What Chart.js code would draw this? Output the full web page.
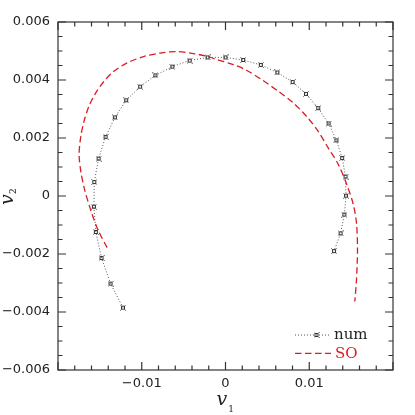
<!DOCTYPE html>
<html>
<head>
<meta charset="utf-8">
<script src="https://cdn.jsdelivr.net/npm/chart.js"></script>
<style>
  html, body { margin: 0; padding: 0; background: #fff; }
</style>
</head>
<body>
<canvas id="myChart" width="415" height="415"></canvas>
<script>
// numerical solution (v1, v2)
const numV1 = [-0.01224, -0.01373, -0.01480, -0.01548, -0.01571, -0.01567, -0.01515, -0.01432, -0.01321, -0.01186,
               -0.01019, -0.00837, -0.00635, -0.00429, -0.00214, 0.00000, 0.00211, 0.00421, 0.00619, 0.00802,
               0.00961, 0.01107, 0.01231, 0.01324, 0.01393, 0.01433, 0.01439, 0.01419, 0.01374, 0.01296];
const numV2 = [-0.00385, -0.00302, -0.00214, -0.00124, -0.00037, 0.00048, 0.00129, 0.00204, 0.00271, 0.00330,
               0.00377, 0.00416, 0.00446, 0.00467, 0.00478, 0.00478, 0.00469, 0.00452, 0.00426, 0.00393,
               0.00352, 0.00303, 0.00250, 0.00192, 0.00131, 0.00067, 0.00001, -0.00064, -0.00129, -0.00190];

// SO curve
const soV1 = [-0.01414, -0.01524, -0.01611, -0.01682, -0.01727, -0.01748, -0.01730, -0.01690, -0.01631, -0.01551,
              -0.01452, -0.01333, -0.01174, -0.00976, -0.00777, -0.00587, -0.00385, -0.00221, -0.00102, 0.00095,
              0.00235, 0.00433, 0.00631, 0.00810, 0.00969, 0.01107, 0.01226, 0.01345, 0.01445, 0.01524,
              0.01564, 0.01576, 0.01564, 0.01544];
const soV2 = [-0.00178, -0.00116, -0.00047, 0.00022, 0.00084, 0.00142, 0.00201, 0.00257, 0.00309, 0.00355,
              0.00395, 0.00430, 0.00459, 0.00481, 0.00493, 0.00498, 0.00491, 0.00482, 0.00470, 0.00453,
              0.00436, 0.00401, 0.00361, 0.00321, 0.00274, 0.00223, 0.00166, 0.00110, 0.00042, -0.00027,
              -0.00093, -0.00185, -0.00289, -0.00364];

const xTicks = [-0.01, 0, 0.01];
const xLabels = ['\u22120.01', '0', '0.01'];
const yTicks = [-0.006, -0.004, -0.002, 0, 0.002, 0.004, 0.006];
const yLabels = ['\u22120.006', '\u22120.004', '\u22120.002', '0', '0.002', '0.004', '0.006'];

const RED = 'rgb(218,28,36)';
const INK = '#222';

function makeMarker() {
  const c = document.createElement('canvas');
  c.width = 6; c.height = 6;
  const g = c.getContext('2d');
  g.strokeStyle = '#333';
  g.lineWidth = 1;
  g.strokeRect(1.5, 1.5, 3, 3);
  g.fillStyle = 'rgba(60,60,60,0.6)';
  g.fillRect(0, 0, 1, 1); g.fillRect(5, 0, 1, 1);
  g.fillRect(0, 5, 1, 1); g.fillRect(5, 5, 1, 1);
  return c;
}
const marker = makeMarker();

const frame = {
  id: 'frame',
  afterDatasetsDraw(chart) {
    const {ctx, chartArea: a, scales: {x, y}} = chart;
    ctx.save();
    ctx.strokeStyle = '#333';
    ctx.lineWidth = 1.2;
    ctx.setLineDash([]);
    ctx.strokeRect(a.left, a.top, a.right - a.left, a.bottom - a.top);
    ctx.beginPath();
    for (let i = 0; i <= 20; i++) {
      const px = x.getPixelForValue(x.min + i * 0.002);
      const len = (i % 5 === 0) ? 8 : 4.5;
      ctx.moveTo(px, a.bottom); ctx.lineTo(px, a.bottom - len);
      ctx.moveTo(px, a.top); ctx.lineTo(px, a.top + len);
    }
    for (let i = 0; i <= 24; i++) {
      const py = y.getPixelForValue(y.min + i * 0.0005);
      const len = (i % 4 === 0) ? 8 : 4.5;
      ctx.moveTo(a.left, py); ctx.lineTo(a.left + len, py);
      ctx.moveTo(a.right, py); ctx.lineTo(a.right - len, py);
    }
    ctx.stroke();

    // legend
    const lx0 = a.right - 98, lx1 = a.right - 62;
    const ly1 = a.bottom - 35, ly2 = a.bottom - 16.7;
    ctx.lineWidth = 1;
    ctx.strokeStyle = '#555';
    ctx.setLineDash([1, 2]);
    ctx.beginPath(); ctx.moveTo(lx0, ly1); ctx.lineTo(lx1, ly1); ctx.stroke();
    ctx.drawImage(marker, lx0 + 21.5 - 3, ly1 - 3);
    ctx.strokeStyle = RED;
    ctx.lineWidth = 1.3;
    ctx.setLineDash([6.5, 3.5]);
    ctx.beginPath(); ctx.moveTo(lx0, ly2); ctx.lineTo(lx1, ly2); ctx.stroke();
    ctx.setLineDash([]);
    ctx.font = '15px "DejaVu Serif"';
    ctx.textBaseline = 'alphabetic';
    ctx.textAlign = 'left';
    ctx.fillStyle = INK;
    ctx.fillText('num', lx1 + 3, ly1 + 4.3);
    ctx.fillStyle = RED;
    ctx.fillText('SO', lx1 + 4, ly2 + 5);

    // axis titles
    ctx.fillStyle = INK;
    ctx.font = 'italic 19px "DejaVu Serif"';
    ctx.fillText('v', 216.5, 405);
    ctx.font = '9px "DejaVu Serif"';
    ctx.fillText('1', 228.3, 411.7);
    ctx.translate(13, 205);
    ctx.rotate(-Math.PI / 2);
    ctx.font = 'italic 19px "DejaVu Serif"';
    ctx.fillText('v', 0, 0);
    ctx.font = '9px "DejaVu Serif"';
    ctx.fillText('2', 11, 3);
    ctx.restore();
  }
};

const data = {
  datasets: [{
    label: 'num',
    data: numV1.map((v, i) => ({x: v, y: numV2[i]})),
    showLine: true,
    borderColor: '#555',
    borderWidth: 1,
    borderDash: [1, 2],
    pointStyle: marker,
    pointRadius: 3,
    tension: 0
  }, {
    label: 'SO',
    data: soV1.map((v, i) => ({x: v, y: soV2[i]})),
    showLine: true,
    borderColor: RED,
    borderWidth: 1.3,
    borderDash: [6.5, 3.5],
    pointRadius: 0,
    tension: 0.3
  }]
};

const tickFont = {family: 'DejaVu Sans', size: 13};

const config = {
  type: 'scatter',
  data: data,
  options: {
    responsive: false,
    animation: false,
    devicePixelRatio: 1,
    layout: {padding: {top: 22, right: 22, left: 0, bottom: 0}},
    plugins: {legend: {display: false}, tooltip: {enabled: false}},
    scales: {
      x: {
        type: 'linear',
        min: -0.02,
        max: 0.02,
        afterBuildTicks: (s) => { s.ticks = xTicks.map(v => ({value: v})); },
        afterFit: (s) => { s.height = 45; },
        ticks: {
          callback: (v, i) => xLabels[i],
          autoSkip: false, maxRotation: 0, padding: 6,
          font: tickFont, color: INK
        },
        grid: {display: false, drawTicks: false},
        border: {display: false}
      },
      y: {
        type: 'linear',
        min: -0.006,
        max: 0.006,
        afterBuildTicks: (s) => { s.ticks = yTicks.map(v => ({value: v})); },
        afterFit: (s) => { s.width = 58; },
        ticks: {
          callback: (v, i) => yLabels[i],
          autoSkip: false, padding: 8,
          font: tickFont, color: INK
        },
        grid: {display: false, drawTicks: false},
        border: {display: false}
      }
    }
  },
  plugins: [frame]
};

const ctx = document.getElementById('myChart');
const myChart = new Chart(ctx, config);
</script>
</body>
</html>
